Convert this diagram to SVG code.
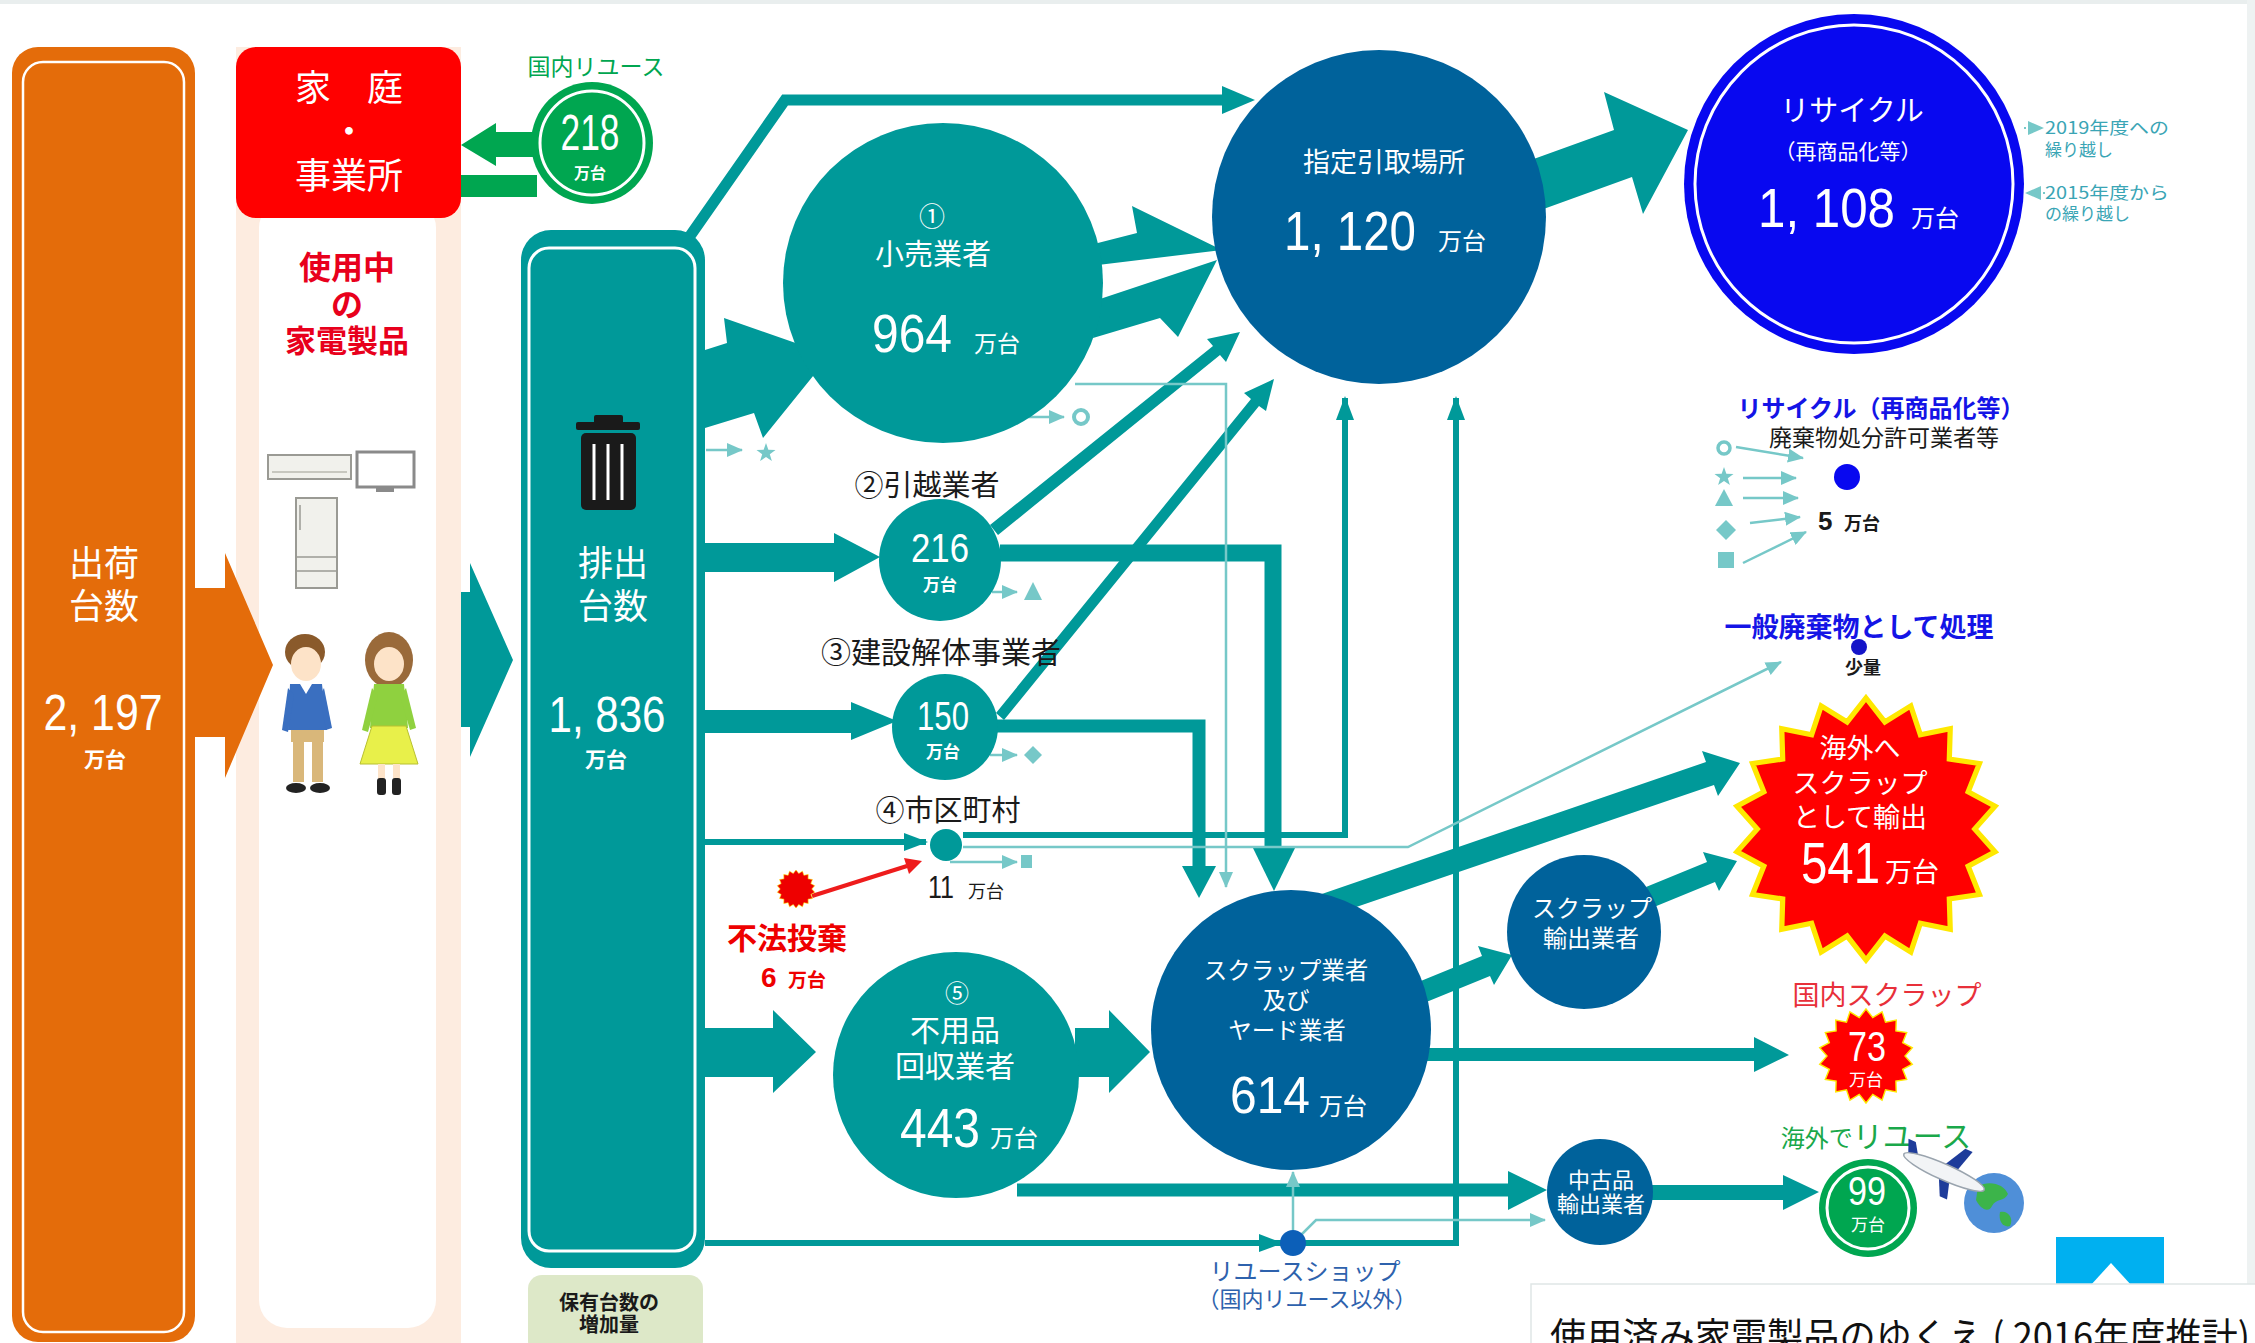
<svg xmlns="http://www.w3.org/2000/svg" xmlns:xlink="http://www.w3.org/1999/xlink" width="2255" height="1343" viewBox="0 0 2255 1343">
<style>
.jp{font-family:"Noto Sans CJK JP","Noto Sans CJK SC",sans-serif;text-anchor:middle}
.num{font-family:"Liberation Sans","Noto Sans CJK JP",sans-serif}
.u{font-family:"Noto Sans CJK JP","Noto Sans CJK SC",sans-serif}
.w{fill:#fff}
.bd{font-weight:700}
.dk{fill:#1a1a1a}
.lt{fill:none;stroke:#76c8c8;stroke-width:2.5}
.ltf{fill:#76c8c8}
.tl{fill:none;stroke:#009999}
.red{fill:#e8001c}
</style>
<defs>
<polygon id="burst" points="0,-100 14.4,-81.7 34.2,-94 41.5,-71.9 64.3,-76.6 63.6,-53.4 86.6,-50 78,-28.4 98.5,-17.4 83,0 98.5,17.4 78,28.4 86.6,50 63.6,53.4 64.3,76.6 41.5,71.9 34.2,94 14.4,81.7 0,100 -14.4,81.7 -34.2,94 -41.5,71.9 -64.3,76.6 -63.6,53.4 -86.6,50 -78,28.4 -98.5,17.4 -83,0 -98.5,-17.4 -78,-28.4 -86.6,-50 -63.6,-53.4 -64.3,-76.6 -41.5,-71.9 -34.2,-94 -14.4,-81.7"/>
<polygon id="star5" points="0,-10 2.35,-3.24 9.5,-3.1 3.8,1.24 5.9,8.1 0,4 -5.9,8.1 -3.8,1.24 -9.5,-3.1 -2.35,-3.24"/>
<marker id="hdL" viewBox="0 0 16 14" refX="15" refY="7" markerWidth="16" markerHeight="14" markerUnits="userSpaceOnUse" orient="auto"><path d="M0,0 L16,7 L0,14 z" fill="#76c8c8"/></marker>
<marker id="hdT" viewBox="0 0 24 18" refX="22" refY="9" markerWidth="24" markerHeight="18" markerUnits="userSpaceOnUse" orient="auto"><path d="M0,0 L24,9 L0,18 z" fill="#009999"/></marker>
</defs>

<!-- page frame -->
<rect x="0" y="0" width="2255" height="1343" fill="#fff"/>
<rect x="0" y="0" width="2255" height="4" fill="#e9eeee"/>
<rect x="2247" y="0" width="8" height="1343" fill="#eef2f2"/>

<!-- shipments column -->
<g id="shipments">
<rect x="12" y="47" width="183" height="1295" rx="26" fill="#e46c0a"/>
<rect x="23" y="62" width="161" height="1270" rx="20" fill="none" stroke="#fff" stroke-width="2.5"/>
<text class="jp w" x="104" y="576" font-size="35">出荷<tspan x="104" dy="43">台数</tspan></text>
<text class="jp w" x="103" y="730"><tspan class="num" font-size="50" textLength="119" lengthAdjust="spacingAndGlyphs">2, 197</tspan><tspan class="bd" x="105" y="767" font-size="21">万台</tspan></text>
</g>

<!-- households column -->
<g id="households">
<rect x="236" y="47" width="225" height="1310" fill="#fdece0"/>
<rect x="259" y="200" width="177" height="1128" rx="28" fill="#fff"/>
<rect x="236" y="47" width="225" height="171" rx="20" fill="#ff0000"/>
<text class="jp w" x="349" y="101" font-size="36">家　庭<tspan x="349" dy="44">・</tspan><tspan x="349" dy="44">事業所</tspan></text>
<text class="jp red bd" x="347" y="279" font-size="32">使用中<tspan x="347" dy="37">の</tspan><tspan x="347" dy="36" font-size="31">家電製品</tspan></text>
<!-- appliances -->
<rect x="268" y="455" width="83" height="24" fill="#f1f1ec" stroke="#9a9a94" stroke-width="2"/>
<line x1="272" y1="472" x2="347" y2="472" stroke="#b8b8b0" stroke-width="1.5"/>
<rect x="357" y="452" width="57" height="35" fill="#fff" stroke="#8a8a8a" stroke-width="3"/>
<rect x="376" y="487" width="18" height="5" fill="#8a8a8a"/>
<rect x="296" y="498" width="41" height="90" fill="#f1f1ec" stroke="#9a9a94" stroke-width="2"/>
<line x1="296" y1="557" x2="337" y2="557" stroke="#9a9a94" stroke-width="1.5"/>
<line x1="296" y1="571" x2="337" y2="571" stroke="#9a9a94" stroke-width="1.5"/>
<line x1="300" y1="505" x2="300" y2="530" stroke="#9a9a94" stroke-width="1.5"/>
<!-- boy -->
<ellipse cx="305" cy="652" rx="20" ry="18" fill="#8a5a2b"/>
<ellipse cx="306" cy="664" rx="15" ry="17" fill="#fde3c8"/>
<path d="M290,684 L322,684 L327,730 L288,730 Z" fill="#3a6fc0"/>
<path d="M288,688 L282,730 L288,732 L294,695 Z" fill="#3a6fc0"/>
<path d="M324,688 L332,728 L326,730 L320,695 Z" fill="#3a6fc0"/>
<path d="M300,684 L306,694 L312,684 Z" fill="#fff"/>
<rect x="291" y="730" width="33" height="12" fill="#d9b77a"/>
<rect x="293" y="742" width="11" height="40" fill="#d9b77a"/>
<rect x="312" y="742" width="11" height="40" fill="#d9b77a"/>
<ellipse cx="296" cy="788" rx="10" ry="5" fill="#222"/>
<ellipse cx="320" cy="788" rx="10" ry="5" fill="#222"/>
<!-- girl -->
<ellipse cx="389" cy="660" rx="24" ry="28" fill="#9a6a3a"/>
<ellipse cx="389" cy="664" rx="15" ry="17" fill="#fde3c8"/>
<path d="M374,684 L404,684 L408,728 L370,728 Z" fill="#8fd13f"/>
<path d="M372,688 L362,730 L368,732 L378,696 Z" fill="#8fd13f"/>
<path d="M406,688 L416,728 L410,730 L400,696 Z" fill="#8fd13f"/>
<path d="M372,726 L406,726 L418,764 L360,764 Z" fill="#e8f04a" stroke="#b8c030" stroke-width="1"/>
<rect x="378" y="764" width="7" height="22" fill="#fde3c8"/>
<rect x="393" y="764" width="7" height="22" fill="#fde3c8"/>
<rect x="377" y="778" width="9" height="17" rx="3" fill="#222"/>
<rect x="392" y="778" width="9" height="17" rx="3" fill="#222"/>
</g>

<!-- discarded units column -->
<g id="discarded">
<rect x="521" y="230" width="184" height="1038" rx="30" fill="#009999"/>
<rect x="529" y="248" width="166" height="1003" rx="20" fill="none" stroke="#fff" stroke-width="3"/>
<rect x="594" y="415" width="29" height="9" rx="2" fill="#1a1a1a"/>
<rect x="576" y="422" width="64" height="8" rx="2" fill="#1a1a1a"/>
<rect x="581" y="433" width="55" height="77" rx="5" fill="#1a1a1a"/>
<line x1="594" y1="444" x2="594" y2="500" stroke="#fff" stroke-width="3"/>
<line x1="608" y1="444" x2="608" y2="500" stroke="#fff" stroke-width="3"/>
<line x1="622" y1="444" x2="622" y2="500" stroke="#fff" stroke-width="3"/>
<text class="jp w" x="613" y="576" font-size="35">排出<tspan x="613" dy="43">台数</tspan></text>
<text class="jp w" x="607" y="732"><tspan class="num" font-size="50" textLength="117" lengthAdjust="spacingAndGlyphs">1, 836</tspan><tspan class="bd" x="606" y="767" font-size="21">万台</tspan></text>
</g>

<g id="stock-increase">
<rect x="528" y="1275" width="175" height="80" rx="14" fill="#dde8c8"/>
<text class="jp dk bd" x="609" y="1310" font-size="20">保有台数の<tspan x="609" dy="22">増加量</tspan></text>
</g>

<!-- connectors -->
<g id="connectors">
<polygon points="195,588 225,588 225,553 273,665 225,778 225,737 195,737" fill="#e46c0a"/>
<polygon points="461,592 470,592 470,563 513,660 470,757 470,727 461,727" fill="#009999"/>
<polygon points="535,132 496,132 496,123 461,145 496,166 496,157 535,157" fill="#00a650"/>
<rect x="461" y="175" width="76" height="22" fill="#00a650"/>

<polyline points="690,236 785,100 1225,100" class="tl" stroke-width="11" stroke-linejoin="miter"/>
<polygon points="1222,86 1255,100 1222,114" fill="#009999"/>

<polygon points="705,350 727,343 724,318 830,355 763,438 754,413 705,428" fill="#009999"/>
<polygon points="1090,245 1137,233 1132,206 1222,250 1098,265" fill="#009999"/>
<polygon points="1097,300 1217,260 1178,337 1160,318 1093,338" fill="#009999"/>
<polygon points="1520,164 1614,130 1604,92 1688,130 1643,214 1632,177 1538,211" fill="#009999"/>

<polygon points="705,543 834,543 834,533 880,557 834,582 834,572 705,572" fill="#009999"/>
<polygon points="705,710 851,710 851,702 897,721 851,740 851,733 705,733" fill="#009999"/>
<polygon points="990,525 1213,346 1207,339 1240,332 1226,362 1220,355 998,535" fill="#009999"/>
<polygon points="996,713 1251,399 1244,393 1274,379 1266,411 1259,406 1004,720" fill="#009999"/>
<path d="M1000,553 H1273 V850" class="tl" stroke-width="17"/>
<polygon points="1252,846 1296,846 1274,891" fill="#009999"/>
<path d="M997,726 H1199 V868" class="tl" stroke-width="13"/>
<polygon points="1182,866 1216,866 1199,898" fill="#009999"/>

<path d="M705,842 H926" class="tl" stroke-width="6" marker-end="url(#hdT)"/>
<path d="M963,835 H1345 V398" class="tl" stroke-width="6" marker-end="url(#hdT)"/>
<path d="M705,1243 H1281" class="tl" stroke-width="6" marker-end="url(#hdT)"/>
<path d="M1293,1243 H1456 V398" class="tl" stroke-width="6" marker-end="url(#hdT)"/>

<polygon points="705,1028 773,1028 773,1010 816,1052 773,1093 773,1077 705,1077" fill="#009999"/>
<polygon points="1075,1028 1109,1028 1109,1010 1150,1052 1109,1093 1109,1077 1075,1077" fill="#009999"/>
<path d="M1017,1190 H1510" class="tl" stroke-width="13"/>
<polygon points="1508,1171 1547,1190 1508,1210" fill="#009999"/>

<polygon points="1316,896 1706,762 1702,751 1740,763 1718,796 1714,785 1324,918" fill="#009999"/>
<polygon points="1411,985 1482,956 1478,946 1512,955 1494,985 1490,976 1419,1005" fill="#009999"/>
<polygon points="1646,887 1707,862 1703,852 1737,861 1719,891 1715,882 1654,907" fill="#009999"/>
<polygon points="1425,1048 1754,1048 1754,1037 1789,1055 1754,1072 1754,1061 1425,1061" fill="#009999"/>
<polygon points="1650,1185 1783,1185 1783,1175 1819,1192 1783,1210 1783,1200 1650,1200" fill="#009999"/>

<!-- light secondary flows -->
<path d="M1075,384 H1226 V887" class="lt" stroke-width="3" marker-end="url(#hdL)"/>
<path d="M963,847 H1408 L1781,662" class="lt" stroke-width="2" marker-end="url(#hdL)"/>
<path d="M1293,1232 V1172" class="lt" stroke-width="2" marker-end="url(#hdL)"/>
<path d="M1300,1236 L1316,1220 H1545" class="lt" stroke-width="2" marker-end="url(#hdL)"/>
<path d="M706,450 H742" class="lt" marker-end="url(#hdL)"/>
<use href="#star5" x="766" y="453" class="ltf"/>
<path d="M1028,417 H1064" class="lt" marker-end="url(#hdL)"/>
<circle cx="1081" cy="417" r="7" fill="none" stroke="#76c8c8" stroke-width="4"/>
<path d="M992,592 H1017" class="lt" marker-end="url(#hdL)"/>
<polygon points="1033,582 1042,600 1024,600" class="ltf"/>
<path d="M990,755 H1017" class="lt" marker-end="url(#hdL)"/>
<polygon points="1033,746 1042,755 1033,764 1024,755" class="ltf"/>
<path d="M950,862 H1017" class="lt" marker-end="url(#hdL)"/>
<rect x="1021" y="855" width="11" height="13" class="ltf"/>

<!-- carry-over notes -->
<path d="M2024,128 H2043" fill="none" stroke="#76c8c8" stroke-width="2" stroke-dasharray="2,2" marker-end="url(#hdL)"/>
<path d="M2045,193 H2026" fill="none" stroke="#76c8c8" stroke-width="2" stroke-dasharray="2,2" marker-end="url(#hdL)"/>

<!-- illegal dumping -->
<line x1="812" y1="896" x2="907" y2="866" stroke="#ee1c1c" stroke-width="4"/>
<polygon points="909,874 922,861 904,858" fill="#ee1c1c"/>

<!-- legend arrows -->
<path d="M1736,447 L1803,458" class="lt" stroke-width="2" marker-end="url(#hdL)"/>
<path d="M1743,478 L1796,478" class="lt" stroke-width="2" marker-end="url(#hdL)"/>
<path d="M1743,498 L1798,498" class="lt" stroke-width="2" marker-end="url(#hdL)"/>
<path d="M1750,523 L1800,517" class="lt" stroke-width="2" marker-end="url(#hdL)"/>
<path d="M1743,563 L1806,532" class="lt" stroke-width="2" marker-end="url(#hdL)"/>
</g>

<!-- domestic reuse -->
<g id="domestic-reuse">
<text class="jp" x="596" y="75" font-size="23" fill="#00a650">国内リユース</text>
<circle cx="592" cy="143" r="61" fill="#00a650"/>
<circle cx="592" cy="143" r="52" fill="none" stroke="#fff" stroke-width="3"/>
<text class="jp w" x="590" y="150"><tspan class="num" font-size="50" textLength="59" lengthAdjust="spacingAndGlyphs">218</tspan><tspan class="bd" x="590" y="179" font-size="16">万台</tspan></text>
</g>

<g id="retailer">
<circle cx="943" cy="283" r="160" fill="#009999"/>
<text class="jp w" x="932" y="226" font-size="26">①<tspan x="933" dy="39" font-size="29">小売業者</tspan></text>
<text class="w" x="872" y="352" style="text-anchor:start"><tspan class="num" font-size="54" textLength="80" lengthAdjust="spacingAndGlyphs">964</tspan><tspan class="u" x="974" font-size="23">万台</tspan></text>
</g>

<g id="designated-site">
<circle cx="1379" cy="217" r="167" fill="#00629b"/>
<text class="jp w" x="1384" y="172" font-size="27">指定引取場所</text>
<text class="w" x="1284" y="250" style="text-anchor:start"><tspan class="num" font-size="55" textLength="132" lengthAdjust="spacingAndGlyphs">1, 120</tspan><tspan class="u" x="1438" font-size="24">万台</tspan></text>
</g>

<g id="recycling">
<circle cx="1854" cy="184" r="170" fill="#0808f0"/>
<circle cx="1854" cy="184" r="159" fill="none" stroke="#fff" stroke-width="3"/>
<text class="jp w" x="1852" y="121" font-size="29">リサイクル<tspan x="1848" dy="38" font-size="21">（再商品化等）</tspan></text>
<text class="w" x="1758" y="227" style="text-anchor:start"><tspan class="num" font-size="56" textLength="137" lengthAdjust="spacingAndGlyphs">1, 108</tspan><tspan class="u" x="1911" font-size="24">万台</tspan></text>
<text class="u" font-size="17" fill="#3aa5b5" x="2045" y="134"><tspan textLength="124" lengthAdjust="spacingAndGlyphs">2019年度への</tspan><tspan x="2045" dy="22">繰り越し</tspan><tspan x="2045" dy="43" textLength="124" lengthAdjust="spacingAndGlyphs">2015年度から</tspan><tspan x="2045" dy="21">の繰り越し</tspan></text>
</g>

<g id="licensed-recyclers">
<text class="jp bd" x="1881" y="417" font-size="24" fill="#1414e6">リサイクル（再商品化等）<tspan x="1884" dy="29" font-size="23" font-weight="400" fill="#1a1a1a">廃棄物処分許可業者等</tspan></text>
<circle cx="1724" cy="448" r="6" fill="none" stroke="#76c8c8" stroke-width="3.5"/>
<use href="#star5" x="1724" y="477" class="ltf"/>
<polygon points="1724,489 1733,506 1715,506" class="ltf"/>
<polygon points="1726,520 1736,530 1726,540 1716,530" class="ltf"/>
<rect x="1718" y="552" width="16" height="16" class="ltf"/>
<circle cx="1847" cy="477" r="13" fill="#0808f0"/>
<text class="dk bd" x="1818" y="530" style="text-anchor:start"><tspan class="num" font-size="26">5</tspan><tspan class="u" x="1844" font-size="18">万台</tspan></text>
</g>

<g id="general-waste">
<text class="jp bd" x="1859" y="637" font-size="27" fill="#1414e6">一般廃棄物として処理</text>
<circle cx="1859" cy="647" r="8" fill="#1414c8"/>
<text class="jp dk bd" x="1863" y="674" font-size="18">少量</text>
</g>

<g id="movers">
<text class="jp dk" x="927" y="496" font-size="29">②引越業者</text>
<circle cx="940" cy="560" r="61" fill="#009999"/>
<text class="jp w" x="940" y="562"><tspan class="num" font-size="40" textLength="58" lengthAdjust="spacingAndGlyphs">216</tspan><tspan class="bd" x="940" y="591" font-size="17">万台</tspan></text>
</g>

<g id="demolition">
<text class="jp dk" x="941" y="663" font-size="30">③建設解体事業者</text>
<circle cx="945" cy="727" r="53" fill="#009999"/>
<text class="jp w" x="943" y="730"><tspan class="num" font-size="40" textLength="52" lengthAdjust="spacingAndGlyphs">150</tspan><tspan class="bd" x="943" y="758" font-size="17">万台</tspan></text>
</g>

<g id="municipalities">
<text class="jp dk" x="948" y="821" font-size="29">④市区町村</text>
<circle cx="946" cy="845" r="16" fill="#009999"/>
<text class="dk" x="928" y="898" style="text-anchor:start"><tspan class="num" font-size="32" textLength="26" lengthAdjust="spacingAndGlyphs">11</tspan><tspan class="u" x="968" font-size="18">万台</tspan></text>
</g>

<g id="illegal-dumping">
<use href="#burst" transform="translate(796,889) scale(0.19)" fill="#ee0000" stroke="#ffe800" stroke-width="3" vector-effect="non-scaling-stroke"/>
<text class="jp bd" x="787" y="949" font-size="30" fill="#ee0000">不法投棄<tspan class="num" x="761" y="987" font-size="28" style="text-anchor:start">6</tspan><tspan x="788" font-size="19" style="text-anchor:start">万台</tspan></text>
</g>

<g id="collectors">
<circle cx="956" cy="1075" r="123" fill="#009999"/>
<text class="jp w" x="957" y="1002" font-size="24">⑤<tspan x="955" dy="39" font-size="30">不用品</tspan><tspan x="955" dy="36" font-size="30">回収業者</tspan></text>
<text class="w" x="900" y="1147" style="text-anchor:start"><tspan class="num" font-size="55" textLength="80" lengthAdjust="spacingAndGlyphs">443</tspan><tspan class="u" x="990" font-size="24">万台</tspan></text>
</g>

<g id="scrap-dealers">
<circle cx="1291" cy="1030" r="140" fill="#00629b"/>
<text class="jp w" x="1286" y="979" font-size="23.5">スクラップ業者<tspan x="1286" dy="30">及び</tspan><tspan x="1287" dy="30">ヤード業者</tspan></text>
<text class="w" x="1230" y="1113" style="text-anchor:start"><tspan class="num" font-size="52" textLength="80" lengthAdjust="spacingAndGlyphs">614</tspan><tspan class="u" x="1319" y="1115" font-size="24">万台</tspan></text>
</g>

<g id="scrap-exporters">
<circle cx="1584" cy="932" r="77" fill="#00629b"/>
<text class="jp w" x="1592" y="917" font-size="24">スクラップ<tspan x="1591" dy="30">輸出業者</tspan></text>
</g>

<g id="scrap-export">
<use href="#burst" transform="translate(1866,829) scale(1.31)" fill="#ff0000" stroke="#ffe800" stroke-width="4" vector-effect="non-scaling-stroke"/>
<text class="jp w" x="1860" y="758" font-size="27">海外へ<tspan x="1860" dy="35">スクラップ</tspan><tspan x="1860" dy="34">として輸出</tspan></text>
<text class="w" x="1801" y="883" style="text-anchor:start"><tspan class="num" font-size="58" textLength="79" lengthAdjust="spacingAndGlyphs">541</tspan><tspan class="u" x="1885" y="882" font-size="27">万台</tspan></text>
</g>

<g id="domestic-scrap">
<text class="jp" x="1887" y="1005" font-size="27" fill="#e8303a">国内スクラップ</text>
<use href="#burst" transform="translate(1866,1056) scale(0.47)" fill="#ff0000" stroke="#ffe800" stroke-width="3" vector-effect="non-scaling-stroke"/>
<text class="jp w" x="1867" y="1061"><tspan class="num" font-size="42" textLength="38" lengthAdjust="spacingAndGlyphs">73</tspan><tspan x="1866" y="1086" font-size="17">万台</tspan></text>
</g>

<g id="used-goods-exporters">
<circle cx="1600" cy="1192" r="53" fill="#00629b"/>
<text class="jp w" x="1601" y="1188" font-size="22">中古品<tspan x="1601" dy="24">輸出業者</tspan></text>
</g>

<g id="reuse-overseas">
<text class="jp" x="1876" y="1147" fill="#1aa84a"><tspan font-size="24">海外で</tspan><tspan font-size="30">リユース</tspan></text>
<circle cx="1868" cy="1208" r="49" fill="#00a650"/>
<circle cx="1868" cy="1208" r="41" fill="none" stroke="#fff" stroke-width="3"/>
<text class="jp w" x="1867" y="1205"><tspan class="num" font-size="40" textLength="38" lengthAdjust="spacingAndGlyphs">99</tspan><tspan x="1868" y="1231" font-size="17">万台</tspan></text>
<!-- globe and plane -->
<circle cx="1994" cy="1203" r="30" fill="#4f8fd8"/>
<path d="M1978,1186 C1990,1180 2004,1184 2008,1194 C2004,1202 1996,1198 1992,1206 C1988,1214 1980,1208 1976,1200 Z" fill="#3cb44a"/>
<path d="M2000,1212 C2008,1210 2014,1218 2010,1226 C2004,1228 1998,1222 2000,1212 Z" fill="#3cb44a"/>
<g transform="translate(1944,1172) rotate(24)">
<polygon points="-4,-4 10,-30 18,-30 10,-2" fill="#1e3c9a"/>
<polygon points="-4,4 6,24 14,24 8,4" fill="#1e3c9a"/>
<polygon points="-40,-2 -46,-16 -38,-16 -30,-4" fill="#1e3c9a"/>
<ellipse cx="0" cy="0" rx="44" ry="8" fill="#f2f4f6" stroke="#9aa4ae" stroke-width="1.5"/>
</g>
</g>

<g id="reuse-shop">
<circle cx="1293" cy="1243" r="13" fill="#0c5fb8"/>
<text class="jp" x="1305" y="1280" font-size="24" fill="#2e62ad">リユースショップ<tspan x="1307" dy="27" font-size="22">（国内リユース以外）</tspan></text>
</g>

<!-- page widgets -->
<g id="page-top-button">
<rect x="2056" y="1237" width="108" height="60" fill="#00b0f0"/>
<polygon points="2090,1286 2111,1263 2132,1286" fill="#fff"/>
</g>
<g id="caption">
<rect x="1531" y="1284" width="730" height="70" fill="#fff" stroke="#dfe6e6" stroke-width="1.5"/>
<text class="jp" x="1550" y="1350" font-size="38" fill="#111" style="text-anchor:start" textLength="700" lengthAdjust="spacingAndGlyphs">使用済み家電製品のゆくえ ( 2016年度推計)</text>
</g>
</svg>
